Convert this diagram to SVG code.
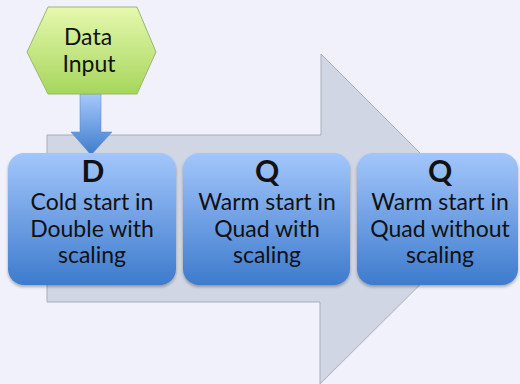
<svg xmlns="http://www.w3.org/2000/svg" width="520" height="384" viewBox="0 0 520 384">
<defs>
<linearGradient id="gBox" x1="0" y1="0" x2="0" y2="1">
<stop offset="0" stop-color="#a3c6fb"/>
<stop offset="1" stop-color="#3d7bcd"/>
</linearGradient>
<linearGradient id="gHex" x1="0" y1="0" x2="0" y2="1">
<stop offset="0" stop-color="#e6f8ae"/>
<stop offset="1" stop-color="#a6d65c"/>
</linearGradient>
<linearGradient id="gDown" x1="0" y1="0" x2="0" y2="1">
<stop offset="0" stop-color="#a6c8fb"/>
<stop offset="1" stop-color="#3f7ccc"/>
</linearGradient>
<filter id="sh" x="-10%" y="-10%" width="120%" height="130%">
<feDropShadow dx="0" dy="2" stdDeviation="1.5" flood-color="#000" flood-opacity="0.3"/>
</filter>
</defs>
<style>
.box{fill:url(#gBox);filter:url(#sh);}
.t{font-family:Lato,"Liberation Sans",sans-serif;font-size:23px;fill:#111;text-anchor:middle;}
.b{font-family:Lato,"Liberation Sans",sans-serif;font-size:30px;font-weight:bold;fill:#111;text-anchor:middle;}
</style>
<rect width="520" height="384" fill="#f1f1fb"/>
<g id="bigArrow">
<path d="M47,135 H321 V54 L486,219 L320,384 V302 H47 Z" fill="#d0d6e4" stroke="#a9adb9" stroke-width="1"/>
</g>
<g id="connectors">
<path d="M80,94 H101 V132 H112 L91,155 L71,132 H80 Z" fill="url(#gDown)" stroke="#5b86c4" stroke-width="0.5"/>
</g>
<g id="dataInput">
<path d="M27,52 L48,7 H137 L156,52 L137,94 H48 Z" fill="url(#gHex)" stroke="#9bb770" stroke-width="1"/>
<text class="t" x="88" y="45">Data</text>
<text class="t" x="89" y="72">Input</text>
</g>
<g id="boxD">
<rect class="box" x="8" y="153" width="168" height="132" rx="16"/>
<text class="b" x="93" y="182">D</text>
<text class="t" x="92" y="210">Cold start in</text>
<text class="t" x="92" y="237">Double with</text>
<text class="t" x="92" y="263">scaling</text>
</g>
<g id="boxQ1">
<rect class="box" x="183" y="153" width="167" height="132" rx="16"/>
<text class="b" x="267" y="182">Q</text>
<text class="t" x="267" y="210">Warm start in</text>
<text class="t" x="267" y="237">Quad with</text>
<text class="t" x="267" y="263">scaling</text>
</g>
<g id="boxQ2">
<rect class="box" x="357" y="153" width="161" height="132" rx="16"/>
<text class="b" x="440" y="182">Q</text>
<text class="t" x="440" y="210">Warm start in</text>
<text class="t" x="440" y="237">Quad without</text>
<text class="t" x="440" y="263">scaling</text>
</g>
</svg>
